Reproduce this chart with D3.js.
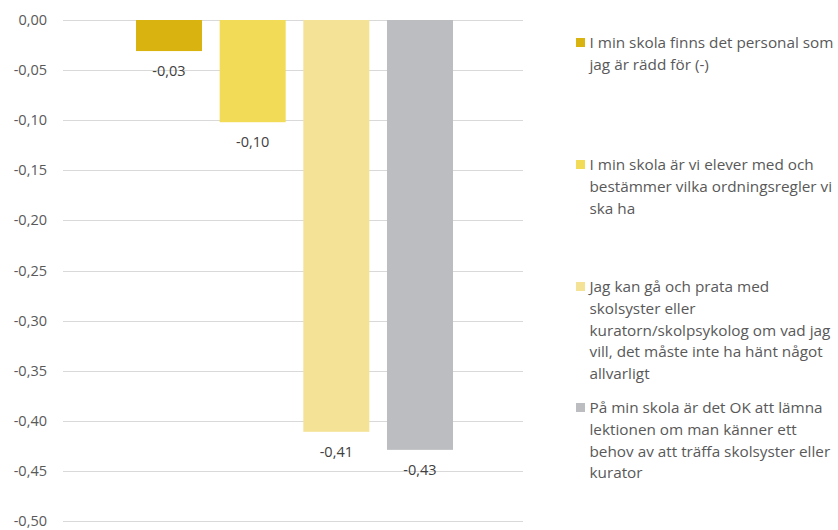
<!DOCTYPE html>
<html><head><meta charset="utf-8">
<script src="https://cdn.jsdelivr.net/npm/d3@7"></script>
<style>
body{margin:0;background:#fff;}
text{font-family:"Open Sans","Liberation Sans",sans-serif;}
</style></head>
<body><svg id="c" width="838" height="530"></svg>
<script>
const series = [
  ["I min skola finns det personal som", "jag är rädd för (-)"],
  ["I min skola är vi elever med och", "bestämmer vilka ordningsregler vi", "ska ha"],
  ["Jag kan gå och prata med", "skolsyster eller", "kuratorn/skolpsykolog om vad jag", "vill, det måste inte ha hänt något", "allvarligt"],
  ["På min skola är det OK att lämna", "lektionen om man känner ett", "behov av att träffa skolsyster eller", "kurator"]
];
const values = [-0.031, -0.102, -0.411, -0.429];
const labels = ["-0,03", "-0,10", "-0,41", "-0,43"];
const colors = ["#D9B30F", "#F2DB57", "#F4E397", "#BCBDC1"];
const yTicks = [0, -0.05, -0.10, -0.15, -0.20, -0.25, -0.30, -0.35, -0.40, -0.45, -0.50];
const legendY = [43, 165, 287, 408];

const svg = d3.select("#c");
const y = d3.scaleLinear().domain([0, -0.5]).range([20, 521]);
const x = d3.scaleBand().domain(d3.range(values.length)).range([136, 453]).paddingInner(0.211).paddingOuter(0);

const fmt = v => d3.format(".2f")(v).replace(".", ",").replace("−", "-");

// gridlines
svg.append("g").selectAll("line").data(yTicks).join("line")
  .attr("x1", 63).attr("x2", 523)
  .attr("y1", d => Math.round(y(d)) + 0.5).attr("y2", d => Math.round(y(d)) + 0.5)
  .attr("stroke", "#D9D9D9").attr("stroke-width", 1);

// y labels
svg.append("g").selectAll("text").data(yTicks).join("text")
  .attr("x", 47).attr("y", d => y(d)).attr("dy", "0.35em")
  .attr("text-anchor", "end").attr("font-size", 14.5).attr("fill", "#595959")
  .text(d => d === 0 ? "0,00" : fmt(d));

// bars
svg.append("g").selectAll("rect").data(values).join("rect")
  .attr("x", (d, i) => x(i)).attr("width", x.bandwidth())
  .attr("y", y(0)).attr("height", d => y(d) - y(0))
  .attr("fill", (d, i) => colors[i]);

// value labels
svg.append("g").selectAll("text").data(values).join("text")
  .attr("x", (d, i) => x(i) + x.bandwidth() / 2).attr("y", d => y(d) + 20).attr("dy", "0.35em")
  .attr("text-anchor", "middle").attr("font-size", 14.5).attr("fill", "#404040")
  .text((d, i) => labels[i]);

// legend
const lg = svg.append("g").selectAll("g").data(series).join("g")
  .attr("transform", (d, i) => `translate(576,${legendY[i]})`);
lg.append("rect").attr("x", 0).attr("y", -5).attr("width", 9).attr("height", 9)
  .attr("fill", (d, i) => colors[i]);
lg.each(function(lines) {
  const t = d3.select(this).append("text").attr("font-size", 15.3).attr("fill", "#595959");
  lines.forEach((ln, j) => t.append("tspan").attr("x", 13.5).attr("y", j * 21.6).attr("dy", "0.35em").text(ln));
});
</script></body></html>
